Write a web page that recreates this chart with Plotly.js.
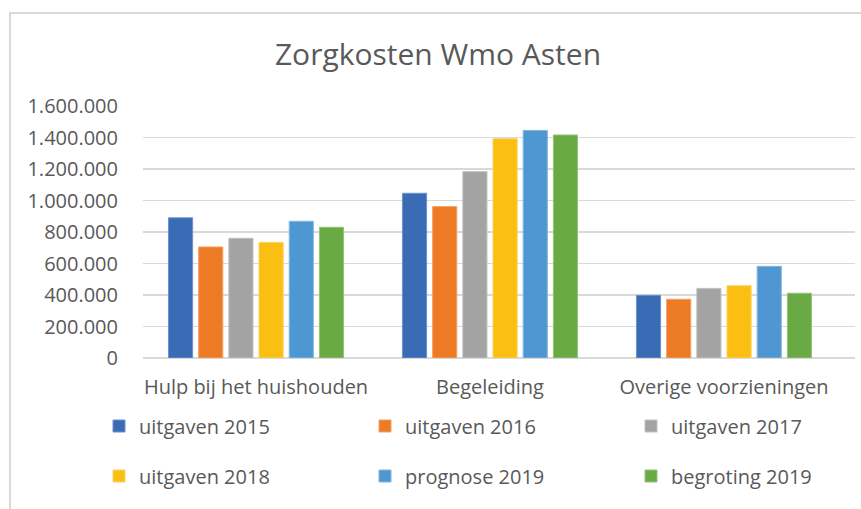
<!DOCTYPE html>
<html>
<head>
<meta charset="utf-8">
<script src="https://cdn.plot.ly/plotly-3.0.1.min.js"></script>
<style>
  html, body { margin: 0; padding: 0; background: #ffffff; }
  #wrap { position: relative; width: 861px; height: 509px; overflow: hidden; }
  #chart { position: absolute; left: 0; top: 0; width: 861px; height: 509px; }
  #frame { position: absolute; left: 9px; top: 12px; width: 900px; height: 600px;
           border-left: 2px solid #d9d9d9; border-top: 2px solid #d9d9d9; pointer-events: none; }
</style>
</head>
<body>
<div id="wrap">
  <div id="chart"></div>
  <div id="frame"></div>
</div>
<script>
// ---- data ----
const categories = ["Hulp bij het huishouden", "Begeleiding", "Overige voorzieningen"];
const seriesNames = ["uitgaven 2015", "uitgaven 2016", "uitgaven 2017", "uitgaven 2018", "prognose 2019", "begroting 2019"];
const uitgaven2015 = [890000, 1046000, 398000];
const uitgaven2016 = [705000, 961000, 373000];
const uitgaven2017 = [760000, 1183000, 442000];
const uitgaven2018 = [734000, 1392000, 459000];
const prognose2019 = [868000, 1445000, 582000];
const begroting2019 = [830000, 1416000, 411000];
const yTickValues = [0, 200000, 400000, 600000, 800000, 1000000, 1200000, 1400000, 1600000];
const yTickLabels = ["0", "200.000", "400.000", "600.000", "800.000", "1.000.000", "1.200.000", "1.400.000", "1.600.000"];

const seriesValues = [uitgaven2015, uitgaven2016, uitgaven2017, uitgaven2018, prognose2019, begroting2019];
const colors = ["#3a6bb5", "#ed7a24", "#a3a3a3", "#fbbf13", "#4f97d2", "#6aaa45"];
const edgeColors = ["#6d93cc", "#f2a167", "#c0c0c0", "#fcd25e", "#84b6e0", "#94c37a"];

const FONT = "'Open Sans', 'DejaVu Sans', sans-serif";
const TXT = "#595959";

// plot area: left 143, right 855, top 106, bottom 358
const L = 143, R = 855, T = 106, B = 358;
const W = 861, H = 509;
const pw = R - L, ph = B - T;

// legend positions (pixels): columns / rows
const legendCols = [99, 365, 631];
const legendRows = [426, 476];

const legendNames = ["legend", "legend2", "legend3", "legend4", "legend5", "legend6"];

const traces = seriesNames.map((name, i) => ({
  type: "bar",
  name: name,
  x: categories,
  y: seriesValues[i],
  marker: { color: colors[i], line: { color: edgeColors[i], width: 1 } },
  legend: legendNames[i],
  hoverinfo: "x+y+name"
}));

const layout = {
  width: W, height: H,
  paper_bgcolor: "#ffffff",
  plot_bgcolor: "#ffffff",
  margin: { l: L, r: W - R, t: T, b: H - B, pad: 0 },
  font: { family: FONT, color: TXT, size: 20 },
  title: {
    text: "Zorgkosten Wmo Asten",
    font: { family: FONT, size: 30, color: TXT },
    x: 438 / W, xanchor: "center",
    y: 1 - 54 / H, yanchor: "middle",
    xref: "container", yref: "container"
  },
  barmode: "group",
  bargap: 0.226,
  bargroupgap: 0.2,
  xaxis: {
    type: "category",
    range: [-0.483, 2.56],
    showgrid: false,
    zeroline: false,
    showline: false,
    ticks: "",
    ticklabelstandoff: 15,
    tickfont: { family: FONT, size: 20, color: TXT },
    fixedrange: true
  },
  yaxis: {
    range: [0, 1600000],
    tickmode: "array",
    tickvals: yTickValues,
    ticktext: yTickLabels,
    showgrid: true,
    gridcolor: "#d9d9d9",
    gridwidth: 1.5,
    zeroline: true,
    zerolinecolor: "#d9d9d9",
    zerolinewidth: 1.5,
    showline: false,
    ticks: "",
    ticklabelstandoff: 24,
    tickfont: { family: FONT, size: 20, color: TXT },
    fixedrange: true
  },
  showlegend: true
};

seriesNames.forEach((name, i) => {
  const col = i % 3, row = Math.floor(i / 3);
  layout[legendNames[i]] = {
    orientation: "h",
    x: (legendCols[col] - L) / pw,
    xanchor: "left",
    y: (B - legendRows[row]) / ph,
    yanchor: "middle",
    bgcolor: "rgba(0,0,0,0)",
    borderwidth: 0,
    font: { family: FONT, size: 20, color: TXT }
  };
});

Plotly.newPlot("chart", traces, layout, { displayModeBar: false, staticPlot: true });
</script>
</body>
</html>
